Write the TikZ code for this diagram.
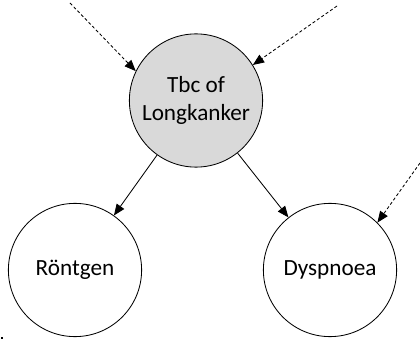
\documentclass[tikz,border=0pt]{standalone}
\usepackage{fontspec}
\setmainfont{Carlito}
\usetikzlibrary{arrows.meta}
\definecolor{causefill}{RGB}{217,217,217}
\begin{document}
\begin{tikzpicture}[x=0.025cm,y=-0.025cm,
  varnode/.style={circle,draw=black,line width=0.6pt,minimum size=3.33cm,inner sep=0pt,
    align=center,font=\fontsize{16.5}{20}\selectfont},
  causal/.style={line width=0.6pt,-{Triangle[length=8pt,width=6.5pt]}},
  external/.style={causal,dash pattern=on 2.2pt off 1.6pt}]
  \useasboundingbox (0,0) rectangle (420,340);
  % variables
  \node[varnode,fill=causefill] (tbc) at (196,100.5) {Tbc of\\Longkanker};
  \node[varnode] (rontgen) at (75,270) {Röntgen};
  \node[varnode] (dyspnoea) at (330,270) {Dyspnoea};
  % loose ends of the incoming influences
  \coordinate (inA) at (70,3);
  \coordinate (inB) at (337,6);
  \coordinate (inC) at (420,163);
  % dependencies
  \draw[causal] (tbc) -- (rontgen);
  \draw[causal] (tbc) -- (dyspnoea);
  \draw[external] (inA) -- (tbc.154);
  \draw[external] (inB) -- (tbc.32);
  \draw[external] (inC) -- (dyspnoea.45);
  % small mark in the corner
  \fill (1,337) rectangle (3,339);
\end{tikzpicture}
\end{document}
